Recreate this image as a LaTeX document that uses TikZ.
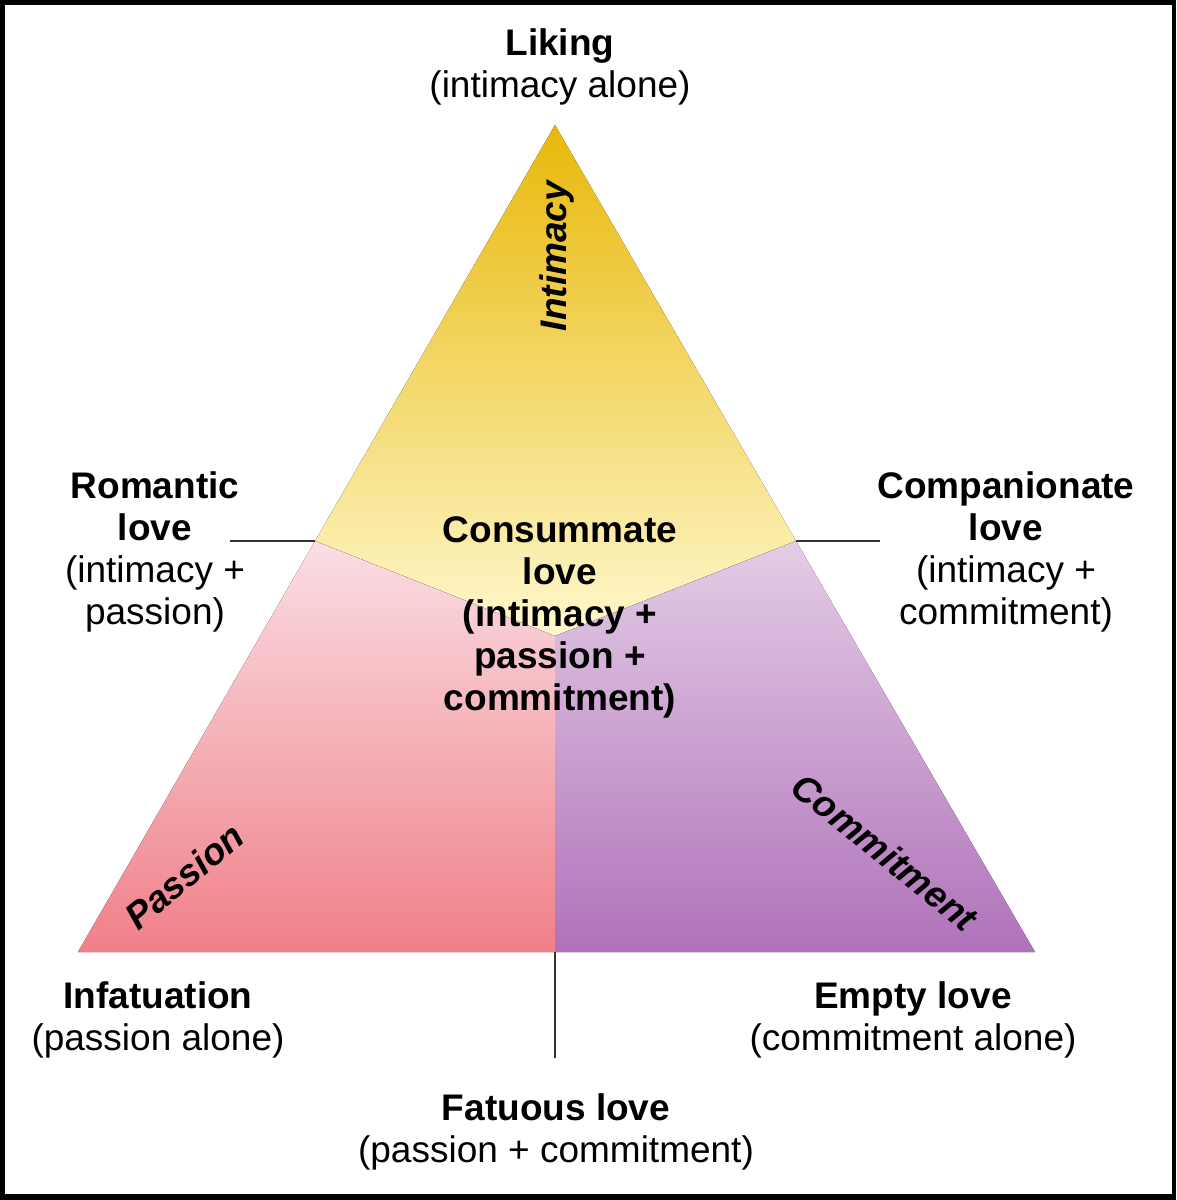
\documentclass[tikz,border=0pt]{standalone}
\usepackage{fontspec}
\setmainfont{Liberation Sans}
\usetikzlibrary{positioning}

\definecolor{goldtop}{RGB}{232,184,10}
\definecolor{goldmid}{RGB}{246,218,90}
\definecolor{goldbot}{RGB}{255,248,205}
\definecolor{pinktop}{RGB}{250,222,228}
\definecolor{pinkbot}{RGB}{240,128,136}
\definecolor{purptop}{RGB}{228,205,230}
\definecolor{purpbot}{RGB}{176,114,186}

\tikzset{
  lovetext/.style={font=\fontsize{37}{42}\selectfont, align=center, inner sep=0pt},
  sidetext/.style={font=\fontsize{37}{42}\selectfont\bfseries\itshape, inner sep=0pt},
  tick/.style={black!80, line width=1.6pt}
}

\begin{document}
\begin{tikzpicture}[x=1pt,y=-1pt]
    % Frame
    \useasboundingbox (0,0) rectangle (1176,1200);
    \fill[black] (0,0) rectangle (1176,1200);
    \fill[white] (5,5) rectangle (1172,1194);

    % Corners
    \coordinate (A) at (555,125);
    \coordinate (L) at (78,952);
    \coordinate (R) at (1035,952);
    \coordinate (C) at (555,636);
    \coordinate (B) at (555,952);
    \coordinate (PL) at (315,541);
    \coordinate (PR) at (796,541);

    % Regions
    \fill[top color=goldtop, middle color=goldmid, bottom color=goldbot] (A) -- (PR) -- (C) -- (PL) -- cycle;
    \fill[top color=pinktop, bottom color=pinkbot] (PL) -- (C) -- (B) -- (L) -- cycle;
    \fill[top color=purptop, bottom color=purpbot] (C) -- (PR) -- (R) -- (B) -- cycle;

    % Nodes
    \node[lovetext] (liking) at (560,67) {\textbf{Liking}\\(intimacy alone)};
    \node[lovetext] (romantic) at (155,552) {\textbf{Romantic}\\\textbf{love}\\(intimacy +\\passion)};
    \node[lovetext] (companion) at (1006,552) {\textbf{Companionate}\\\textbf{love}\\(intimacy +\\commitment)};
    \node[lovetext, font=\fontsize{37}{42}\selectfont\bfseries] (consummate) at (560,617) {Consummate\\love\\(intimacy +\\passion +\\commitment)};
    \node[lovetext] (infatuation) at (158,1020) {\textbf{Infatuation}\\(passion alone)};
    \node[lovetext] (empty) at (913,1020) {\textbf{Empty love}\\(commitment alone)};
    \node[lovetext] (fatuous) at (556,1132) {\textbf{Fatuous love}\\(passion + commitment)};

    \node[sidetext, rotate=90] (intimacy) at (557,256) {Intimacy};
    \node[sidetext, rotate=40] (passion) at (184,876) {Passion};
    \node[sidetext, rotate=-39] (commitment) at (885,852) {Commitment};

    % Lines
    \coordinate (rl) at (230,541);
    \coordinate (cl) at (880,541);
    \coordinate (fl) at (555,1058);
    \draw[tick] (rl) -- (PL);
    \draw[tick] (PR) -- (cl);
    \draw[tick] (B) -- (fl);
\end{tikzpicture}
\end{document}
